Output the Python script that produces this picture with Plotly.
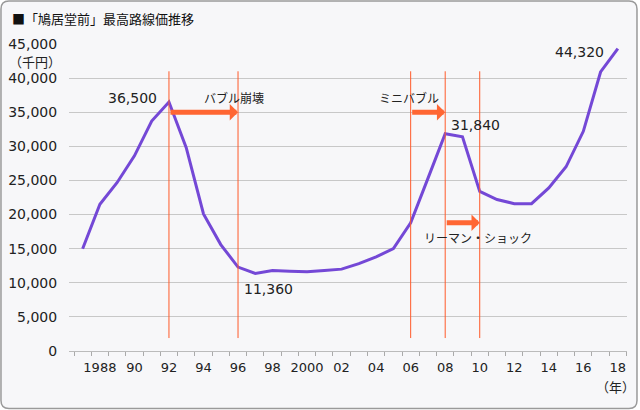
import plotly.graph_objects as go

# ---- data ----
years = [1987, 1988, 1989, 1990, 1991, 1992, 1993, 1994, 1995, 1996,
         1997, 1998, 1999, 2000, 2001, 2002, 2003, 2004, 2005, 2006,
         2007, 2008, 2009, 2010, 2011, 2012, 2013, 2014, 2015, 2016,
         2017, 2018]
prices = [15000, 21500, 24700, 28600, 33700, 36500, 29800, 20100, 15600, 12300,
          11360, 11800, 11700, 11600, 11800, 12000, 12800, 13800, 15000, 18800,
          25300, 31840, 31400, 23400, 22200, 21600, 21600, 23900, 27000, 32200,
          40900, 44320]
label_years = [1988, 1990, 1992, 1994, 1996, 1998, 2000, 2002, 2004, 2006,
               2008, 2010, 2012, 2014, 2016, 2018]
label_text = ['1988', '90', '92', '94', '96', '98', '2000', '02', '04', '06',
              '08', '10', '12', '14', '16', '18']
y_ticks = [0, 5000, 10000, 15000, 20000, 25000, 30000, 35000, 40000, 45000]

event_years = [1992, 1996, 2006, 2008, 2010]
# (start year, end year, level)
arrows = [(1992, 1996, 35000), (2006, 2008, 35000), (2008, 2010, 18800)]
value_labels = [  # (year, value, text, xanchor, xshift, yshift)
    (1992, 36500, '36,500', 'right', -10, 4),
    (1997, 11360, '11,360', 'left', -13, -15),
    (2008, 31840, '31,840', 'left', 4, 9),
    (2018, 44320, '44,320', 'right', -12, -3),
]
event_labels = [  # (year, value, text, xshift, yshift)
    (1996, 35000, 'バブル崩壊', -4, 14),
    (2006, 35000, 'ミニバブル', -2, 14),
    (2010, 18800, 'リーマン・ショック', -2, -16),
]

FONT = 'DejaVu Sans, Noto Sans CJK JP, sans-serif'
CJK = 'Noto Sans CJK JP, DejaVu Sans, sans-serif'
XR = [1986.21, 2018.53]
ORANGE = '#ff6633'
TXT = '#222222'

fig = go.Figure()
fig.add_trace(go.Scatter(x=years, y=prices, mode='lines',
                         line=dict(color='#7448d6', width=3),
                         showlegend=False, hoverinfo='skip'))
# empty trace so the label axis is drawn
fig.add_trace(go.Scatter(x=[], y=[], xaxis='x2', yaxis='y',
                         showlegend=False, hoverinfo='skip'))

shapes = []
# background frame
x0, x1, y0, y1 = -0.1219, 1.0179, -0.1873, 1.1401
rx, ry = 0.0143, 0.0261
path = (f'M{x0+rx},{y1} L{x1-rx},{y1} Q{x1},{y1} {x1},{y1-ry} '
        f'L{x1},{y0+ry} Q{x1},{y0} {x1-rx},{y0} L{x0+rx},{y0} '
        f'Q{x0},{y0} {x0},{y0+ry} L{x0},{y1-ry} Q{x0},{y1} {x0+rx},{y1} Z')
shapes.append(dict(type='path', xref='paper', yref='paper', path=path,
                   fillcolor='#f7f7f9', line=dict(color='#9a9a9a', width=1.5),
                   layer='below'))
for yr in event_years:
    shapes.append(dict(type='line', xref='x', yref='y', x0=yr, x1=yr,
                       y0=1900, y1=41000, line=dict(color='#ff5a2a', width=1)))

annotations = []
for a, b, lv in arrows:
    annotations.append(dict(x=b, y=lv, ax=a, ay=lv, xref='x', yref='y',
                            axref='x', ayref='y', text='', showarrow=True,
                            arrowhead=1, arrowsize=0.55, arrowwidth=5,
                            arrowcolor=ORANGE))
for yr, v, t, xa, xs, ys in value_labels:
    annotations.append(dict(x=yr, y=v, xref='x', yref='y', text=t,
                            showarrow=False, xanchor=xa, yanchor='middle',
                            xshift=xs, yshift=ys,
                            font=dict(family=FONT, size=14, color=TXT)))
for yr, v, t, xs, ys in event_labels:
    annotations.append(dict(x=yr, y=v, xref='x', yref='y', text=t,
                            showarrow=False, xanchor='center', yanchor='middle',
                            xshift=xs, yshift=ys,
                            font=dict(family=FONT, size=12, color=TXT)))
annotations.append(dict(x=0, y=45000, xref='paper', yref='y', text='（千円）',
                        showarrow=False, xanchor='right', yanchor='middle',
                        xshift=-6, yshift=-18,
                        font=dict(family=FONT, size=13, color=TXT)))
annotations.append(dict(x=1, y=0, xref='paper', yref='y', text='（年）',
                        showarrow=False, xanchor='right', yanchor='middle',
                        xshift=10, yshift=-36,
                        font=dict(family=FONT, size=13, color=TXT)))

fig.update_layout(
    width=640, height=410, autosize=False,
    margin=dict(l=69, r=13, t=44, b=59, autoexpand=False),
    paper_bgcolor='white', plot_bgcolor='rgba(0,0,0,0)',
    font=dict(family=FONT, size=13, color=TXT),
    title=dict(text='■「鳩居堂前」最高路線価推移', xref='container', yref='container',
               x=12/640, xanchor='left', y=1-19/410, yanchor='middle',
               font=dict(family=CJK, size=13, color='#111')),
    xaxis=dict(range=XR, tickmode='linear', tick0=1986.5, dtick=1,
               ticks='outside', ticklen=4, tickcolor='#aaaaaa',
               showticklabels=False, showgrid=False, zeroline=False,
               showline=True, linecolor='#bbbbbb', linewidth=1,
               automargin=False),
    xaxis2=dict(range=XR, overlaying='x', anchor='y', side='bottom',
                tickmode='array', tickvals=label_years, ticktext=label_text,
                ticks='outside', ticklen=4, tickcolor='rgba(0,0,0,0)',
                showgrid=False, zeroline=False, showline=False,
                automargin=False,
                tickfont=dict(family=FONT, size=13, color=TXT)),
    yaxis=dict(range=[0, 45000], tickmode='array', tickvals=y_ticks,
               tickformat=',', showgrid=True, gridcolor='#c8c8c8', gridwidth=1,
               zeroline=False, showline=False, ticks='outside', ticklen=8,
               tickcolor='rgba(0,0,0,0)', automargin=False,
               tickfont=dict(family=FONT, size=14, color=TXT)),
    shapes=shapes, annotations=annotations,
)

fig.write_html('out.html', config={'displayModeBar': False},
               post_script="document.body.style.margin='0';document.body.style.overflow='hidden';")
